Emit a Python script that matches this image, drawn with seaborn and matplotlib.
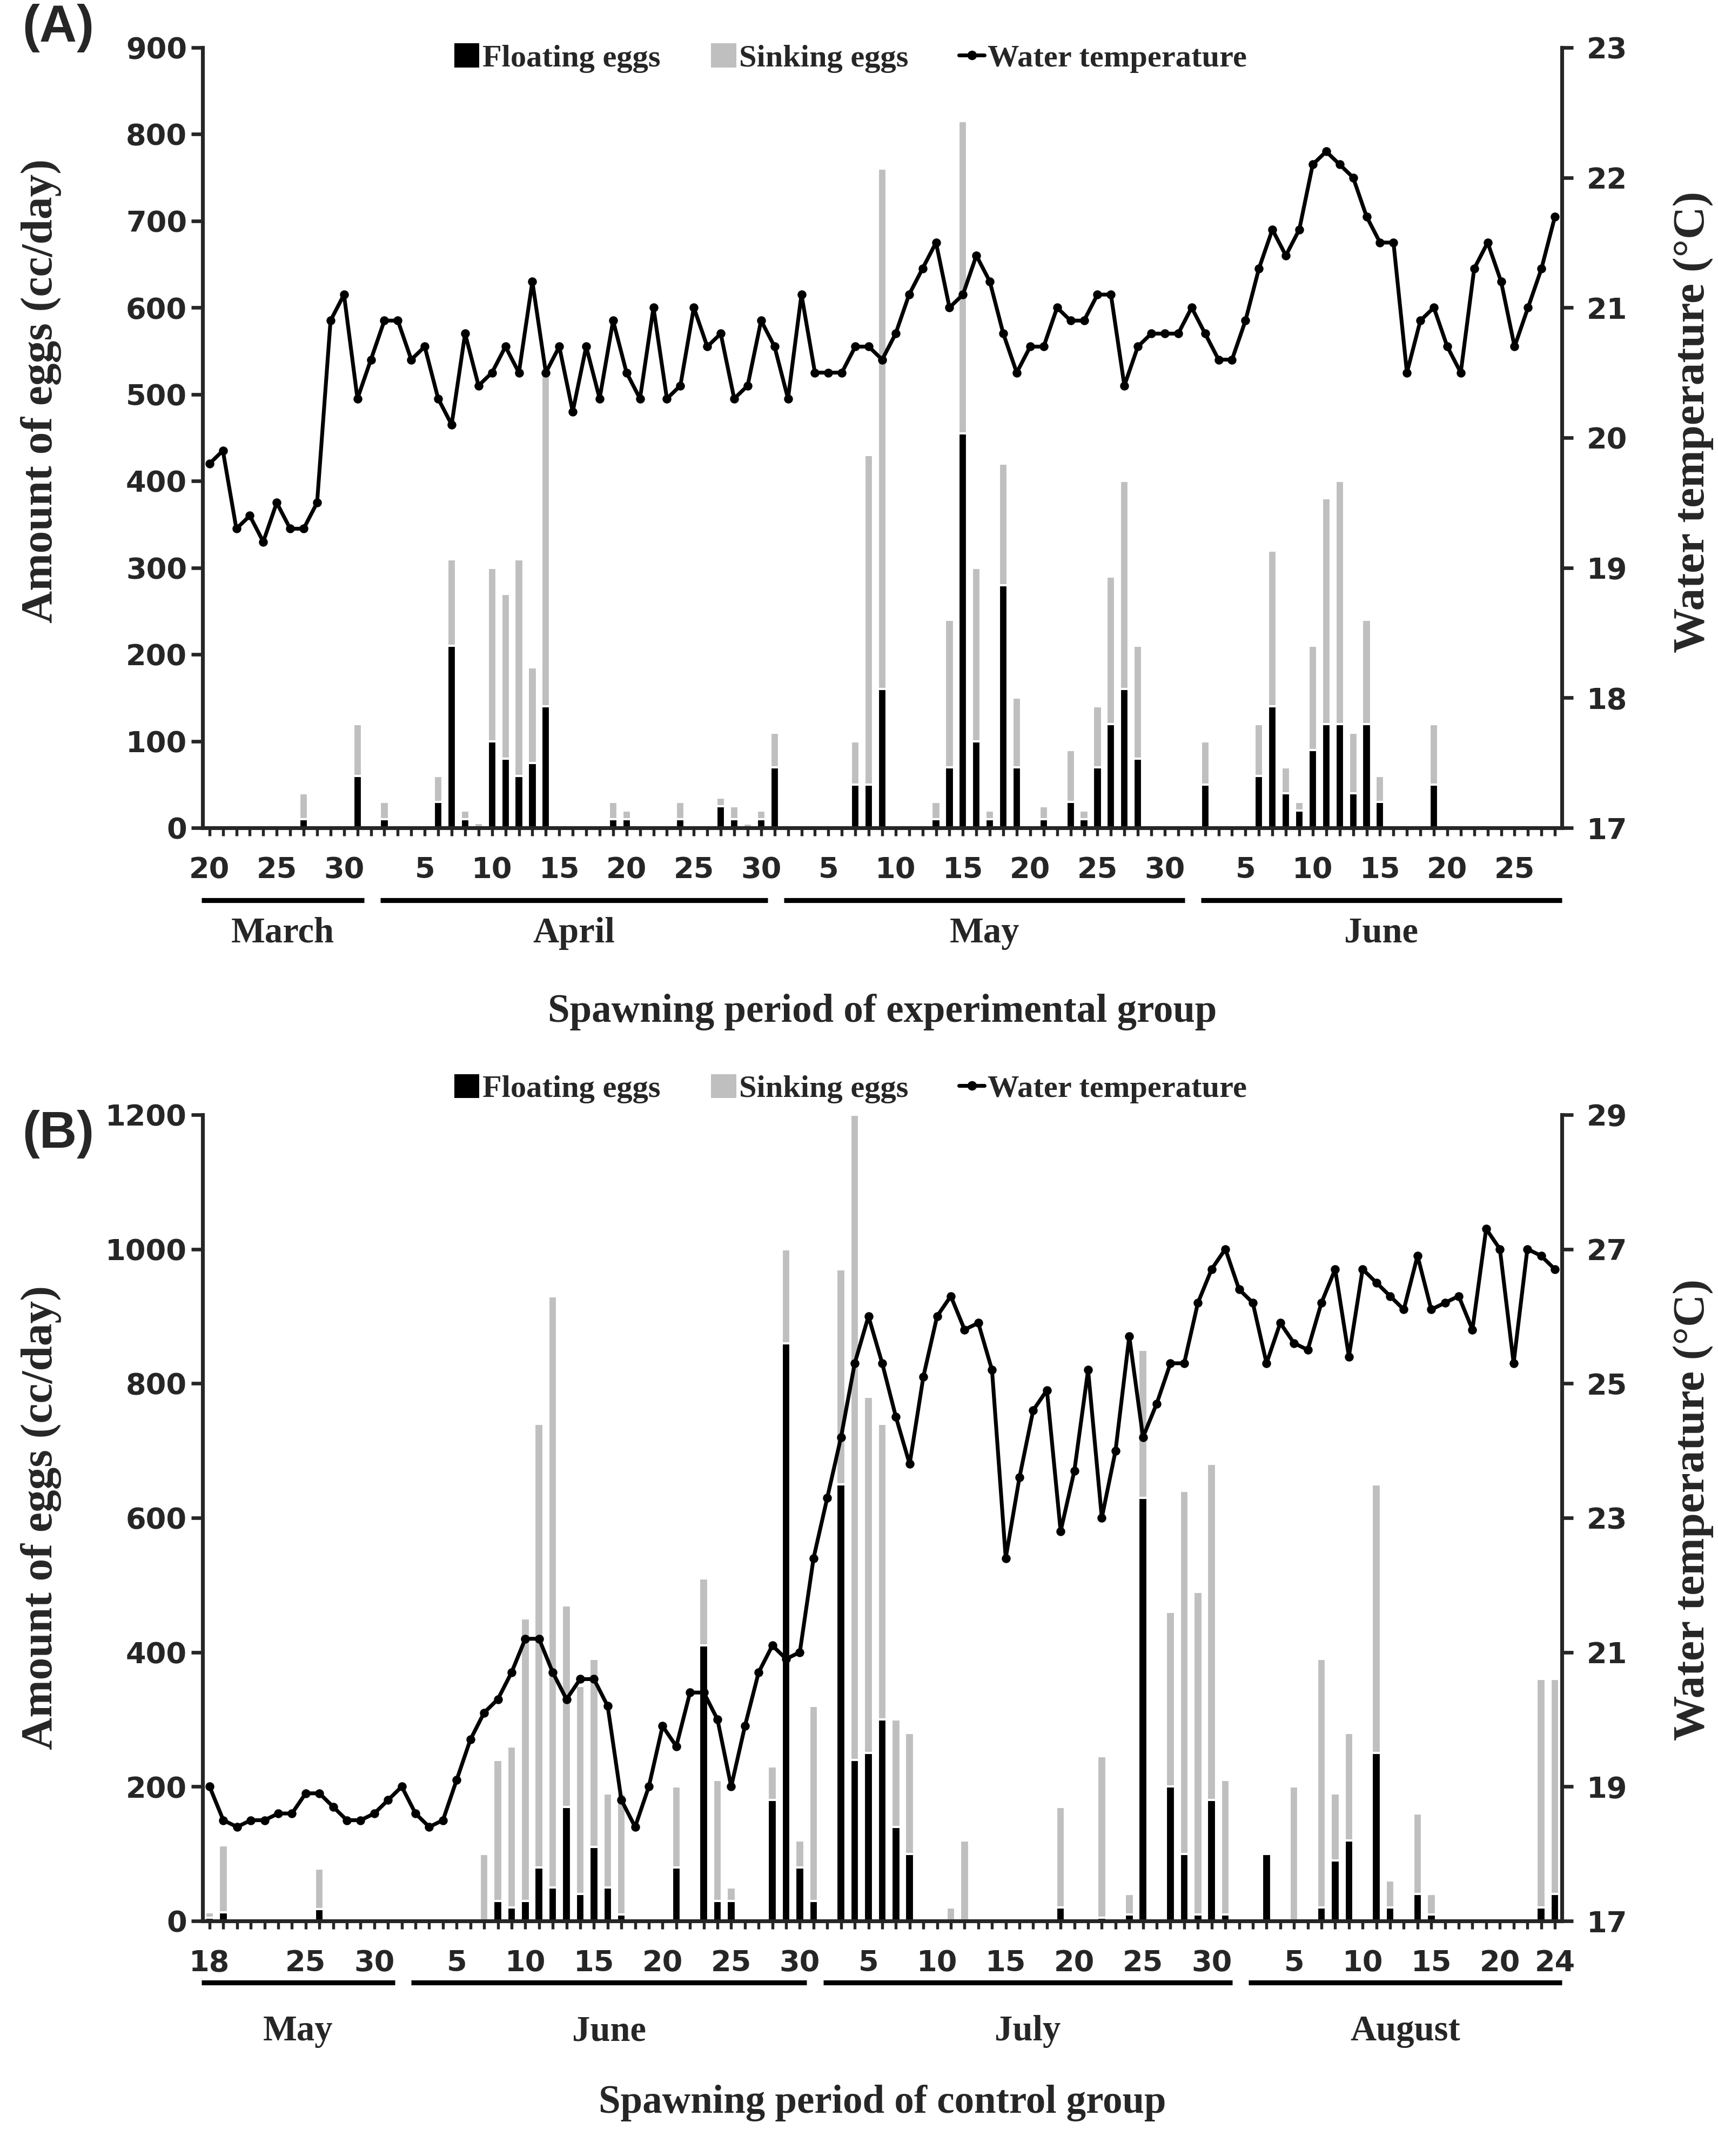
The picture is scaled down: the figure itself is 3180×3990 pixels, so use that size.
import numpy as np
import pandas as pd
import matplotlib
matplotlib.use("Agg")
import matplotlib.pyplot as plt
import matplotlib.transforms as mtransforms
from matplotlib.lines import Line2D
from matplotlib.patches import Patch
import seaborn as sns

# --- (A) experimental group: 20 March - 28 June ---
a_months = ["March", "April", "May", "June"]
a_days = [list(range(20, 32)), list(range(1, 31)), list(range(1, 32)), list(range(1, 29))]
a_shown = [[20, 25, 30], [5, 10, 15, 20, 25, 30], [5, 10, 15, 20, 25, 30], [5, 10, 15, 20, 25]]

a_temp_mar = [19.8, 19.9, 19.3, 19.4, 19.2, 19.5, 19.3, 19.3, 19.5, 20.9, 21.1, 20.3]
a_temp_apr = [20.6, 20.9, 20.9, 20.6, 20.7, 20.3, 20.1, 20.8, 20.4, 20.5,
              20.7, 20.5, 21.2, 20.5, 20.7, 20.2, 20.7, 20.3, 20.9, 20.5,
              20.3, 21.0, 20.3, 20.4, 21.0, 20.7, 20.8, 20.3, 20.4, 20.9]
a_temp_may = [20.7, 20.3, 21.1, 20.5, 20.5, 20.5, 20.7, 20.7, 20.6, 20.8,
              21.1, 21.3, 21.5, 21.0, 21.1, 21.4, 21.2, 20.8, 20.5, 20.7,
              20.7, 21.0, 20.9, 20.9, 21.1, 21.1, 20.4, 20.7, 20.8, 20.8, 20.8]
a_temp_jun = [21.0, 20.8, 20.6, 20.6, 20.9, 21.3, 21.6, 21.4, 21.6, 22.1,
              22.2, 22.1, 22.0, 21.7, 21.5, 21.5, 20.5, 20.9, 21.0, 20.7,
              20.5, 21.3, 21.5, 21.2, 20.7, 21.0, 21.3, 21.7]

a_float_mar = [0, 0, 0, 0, 0, 0, 0, 10, 0, 0, 0, 60]
a_sink_mar = [0, 0, 3, 0, 0, 0, 0, 30, 0, 0, 0, 60]
a_float_apr = [0, 10, 0, 0, 0, 30, 210, 10, 0, 100, 80, 60, 75, 140, 0,
               0, 0, 0, 10, 10, 0, 0, 0, 10, 0, 0, 25, 10, 0, 10]
a_sink_apr = [0, 20, 0, 0, 0, 30, 100, 10, 6, 200, 190, 250, 110, 390, 0,
              0, 0, 0, 20, 10, 0, 0, 0, 20, 0, 0, 10, 15, 5, 10]
a_float_may = [70, 0, 0, 0, 0, 0, 50, 50, 160, 0, 0, 0, 10, 70, 455, 100,
               10, 280, 70, 0, 10, 0, 30, 10, 70, 120, 160, 80, 0, 0, 0]
a_sink_may = [40, 0, 0, 0, 0, 0, 50, 380, 600, 0, 0, 0, 20, 170, 360, 200,
              10, 140, 80, 0, 15, 0, 60, 10, 70, 170, 240, 130, 0, 0, 0]
a_float_jun = [0, 50, 0, 0, 0, 60, 140, 40, 20, 90, 120, 120, 40, 120,
               30, 0, 0, 0, 50, 0, 0, 0, 0, 0, 0, 0, 0, 0]
a_sink_jun = [0, 50, 0, 0, 0, 60, 180, 30, 10, 120, 260, 280, 70, 120,
              30, 0, 0, 0, 70, 0, 0, 0, 2, 2, 0, 0, 0, 0]

# --- (B) control group: 18 May - 24 August ---
b_months = ["May", "June", "July", "August"]
b_days = [list(range(18, 32)), list(range(1, 31)), list(range(1, 32)), list(range(1, 25))]
b_shown = [[18, 25, 30], [5, 10, 15, 20, 25, 30], [5, 10, 15, 20, 25, 30], [5, 10, 15, 20, 24]]

b_temp_may = [19.0, 18.5, 18.4, 18.5, 18.5, 18.6, 18.6, 18.9, 18.9, 18.7, 18.5, 18.5, 18.6, 18.8]
b_temp_jun = [19.0, 18.6, 18.4, 18.5, 19.1, 19.7, 20.1, 20.3, 20.7, 21.2,
              21.2, 20.7, 20.3, 20.6, 20.6, 20.2, 18.8, 18.4, 19.0, 19.9,
              19.6, 20.4, 20.4, 20.0, 19.0, 19.9, 20.7, 21.1, 20.9, 21.0]
b_temp_jul = [22.4, 23.3, 24.2, 25.3, 26.0, 25.3, 24.5, 23.8, 25.1, 26.0,
              26.3, 25.8, 25.9, 25.2, 22.4, 23.6, 24.6, 24.9, 22.8, 23.7,
              25.2, 23.0, 24.0, 25.7, 24.2, 24.7, 25.3, 25.3, 26.2, 26.7, 27.0]
b_temp_aug = [26.4, 26.2, 25.3, 25.9, 25.6, 25.5, 26.2, 26.7, 25.4, 26.7,
              26.5, 26.3, 26.1, 26.9, 26.1, 26.2, 26.3, 25.8, 27.3, 27.0,
              25.3, 27.0, 26.9, 26.7]

b_float_may = [5, 13, 0, 0, 0, 0, 0, 0, 18, 0, 0, 0, 0, 0]
b_sink_may = [8, 100, 0, 0, 0, 0, 0, 0, 60, 0, 0, 0, 0, 0]
b_float_jun = [0, 0, 0, 0, 0, 0, 0, 30, 20, 30, 80, 50, 170, 40, 110,
               50, 10, 0, 0, 0, 80, 0, 410, 30, 30, 0, 0, 180, 860, 80]
b_sink_jun = [0, 0, 0, 0, 0, 0, 100, 210, 240, 420, 660, 880, 300, 310, 280,
              140, 180, 0, 0, 0, 120, 0, 100, 180, 20, 0, 0, 50, 140, 40]
b_float_jul = [30, 0, 650, 240, 250, 300, 140, 100, 0, 0, 0, 0, 0, 0, 0, 0,
               0, 0, 20, 0, 0, 5, 0, 10, 630, 0, 200, 100, 10, 180, 10]
b_sink_jul = [290, 0, 320, 960, 530, 440, 160, 180, 0, 0, 20, 120, 0, 0, 0, 0,
              0, 0, 150, 0, 0, 240, 0, 30, 220, 0, 260, 540, 480, 500, 200]
b_float_aug = [0, 0, 100, 0, 0, 0, 20, 90, 120, 0, 250, 20, 0, 40, 10, 0,
               0, 0, 0, 0, 0, 0, 20, 40]
b_sink_aug = [0, 0, 0, 0, 200, 0, 370, 100, 160, 0, 400, 40, 0, 120, 30, 0,
              0, 0, 0, 0, 0, 0, 340, 320]

GREY = "#bfbfbf"
SERIF = "Liberation Serif"

sns.set_style("ticks")
plt.rcParams["font.family"] = ["DejaVu Sans"]
plt.rcParams["font.weight"] = "bold"


def draw_panel(ax, months, days, shown, floating, sinking, temp,
               egg_max, egg_step, t_lim, t_step, xlabel, ul_y, name_y, xl_y, yl_y, yr_y):
    n = len(temp)
    df = pd.DataFrame({"day": np.arange(n),
                       "total": np.array(floating) + np.array(sinking),
                       "floating": floating,
                       "temp": temp})
    sns.barplot(data=df, x="day", y="total", color=GREY, width=0.65,
                saturation=1, errorbar=None, ax=ax)
    sns.barplot(data=df, x="day", y="floating", color="black", width=0.65,
                saturation=1, errorbar=None, ax=ax)
    ax2 = ax.twinx()
    sns.lineplot(data=df, x="day", y="temp", color="black", lw=1.7, marker="o",
                 markersize=3.2, markeredgecolor="black", ax=ax2)

    ax.set_xlim(-0.5, n - 0.5)
    ax.set_ylim(0, egg_max)
    ax.set_yticks(np.arange(0, egg_max + 1, egg_step))
    ax2.set_ylim(*t_lim)
    ax2.set_yticks(np.arange(t_lim[0], t_lim[1] + 0.1, t_step))

    # every day gets a tick, only some are labelled
    labels = []
    for ds, sh in zip(days, shown):
        labels += [str(d) if d in sh else "" for d in ds]
    ax.set_xticks(np.arange(n))
    ax.set_xticklabels(labels)

    ax.tick_params(axis="x", direction="out", length=3.5, width=1.3, pad=9, labelsize=13)
    ax.tick_params(axis="y", direction="out", length=5, width=1.6, pad=2, labelsize=13)
    ax2.tick_params(axis="y", direction="out", length=5, width=1.6, pad=6, labelsize=13)

    for s in ["top", "right"]:
        ax.spines[s].set_visible(False)
    for s in ["top", "left", "bottom"]:
        ax2.spines[s].set_visible(False)
    for s in ["left", "bottom"]:
        ax.spines[s].set_linewidth(1.7)
    ax2.spines["right"].set_linewidth(1.7)

    ax.set_xlabel("")
    ax2.set_xlabel("")
    ax.set_ylabel("Amount of eggs (cc/day)", family=SERIF, weight="bold", fontsize=20)
    ax2.set_ylabel("Water temperature (\u00b0C)", family=SERIF, weight="bold", fontsize=20)
    ax.yaxis.set_label_coords(-0.104, yl_y)
    ax2.yaxis.set_label_coords(1.082, yr_y)

    # month underlines and names below the day labels
    trans = mtransforms.blended_transform_factory(ax.transData, ax.transAxes)
    start = 0
    for i, (m, ds) in enumerate(zip(months, days)):
        first, last = start, start + len(ds) - 1
        x0 = first - 0.6 if i == 0 else first + 0.7
        x1 = last + 0.5
        ax.plot([x0, x1], [ul_y, ul_y], color="black", lw=2.2, transform=trans,
                clip_on=False, solid_capstyle="butt")
        ax.text((x0 + x1) / 2, name_y, m, transform=trans, ha="center", va="center",
                family=SERIF, weight="bold", fontsize=16)
        start += len(ds)
    ax.text(0.5, xl_y, xlabel, transform=ax.transAxes, ha="center", va="center",
            family=SERIF, weight="bold", fontsize=17.5)


fig = plt.figure(figsize=(10.6, 13.3), dpi=300)
ax_a = fig.add_axes([0.118, 0.616, 0.791, 0.362])
ax_b = fig.add_axes([0.118, 0.109, 0.791, 0.374])

draw_panel(ax_a, a_months, a_days, a_shown,
           a_float_mar + a_float_apr + a_float_may + a_float_jun,
           a_sink_mar + a_sink_apr + a_sink_may + a_sink_jun,
           a_temp_mar + a_temp_apr + a_temp_may + a_temp_jun,
           900, 100, (17, 23), 1, "Spawning period of experimental group",
           -0.093, -0.135, -0.236, 0.56, 0.52)
draw_panel(ax_b, b_months, b_days, b_shown,
           b_float_may + b_float_jun + b_float_jul + b_float_aug,
           b_sink_may + b_sink_jun + b_sink_jul + b_sink_aug,
           b_temp_may + b_temp_jun + b_temp_jul + b_temp_aug,
           1200, 200, (17, 29), 2, "Spawning period of control group",
           -0.076, -0.137, -0.226, 0.50, 0.51)

handles = [Patch(facecolor="black", edgecolor="none"),
           Patch(facecolor=GREY, edgecolor="none"),
           Line2D([0], [0], color="black", lw=1.7, marker="o", markersize=3.2)]
names = ["Floating eggs", "Sinking eggs", "Water temperature"]
for ly in [0.973, 0.495]:
    fig.legend(handles, names, loc="center", bbox_to_anchor=(0.495, ly), ncol=3,
               frameon=False, prop=dict(family=SERIF, weight="bold", size=14),
               handlelength=0.8, handleheight=0.8, handletextpad=0.1, columnspacing=1.6)

fig.text(0.013, 0.987, "(A)", fontsize=23, weight="bold", family="Liberation Sans", va="center")
fig.text(0.013, 0.474, "(B)", fontsize=23, weight="bold", family="Liberation Sans", va="center")

fig.savefig("out.png", dpi=300, facecolor="white")
